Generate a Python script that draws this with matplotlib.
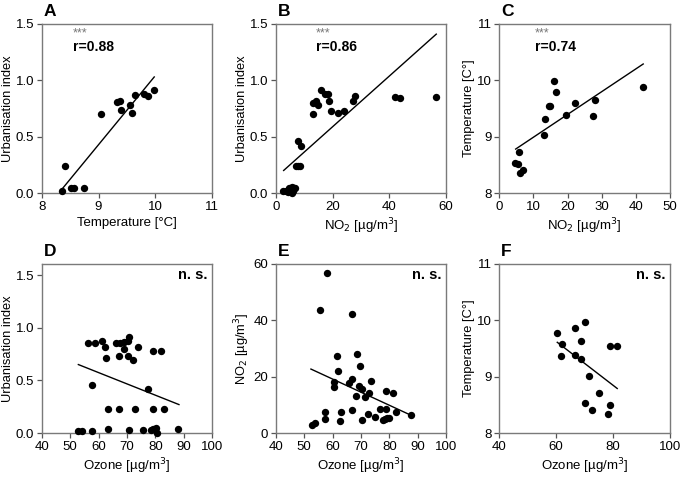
import matplotlib
matplotlib.use('Agg')
import matplotlib.pyplot as plt

plt.rcParams['font.family'] = ['Liberation Sans', 'DejaVu Sans']
plt.rcParams['font.size'] = 9.5

# A: temperature vs urbanisation
a_temp = [8.36, 8.41, 8.52, 8.57, 8.74, 9.04, 9.32, 9.38, 9.39, 9.55, 9.59, 9.65, 9.80, 9.87, 9.97]
a_urb = [0.02, 0.24, 0.04, 0.04, 0.04, 0.70, 0.81, 0.82, 0.74, 0.78, 0.71, 0.87, 0.88, 0.86, 0.91]
a_fit_x = [8.35, 9.98]
a_fit_y = [0.03, 1.03]

# B: NO2 vs urbanisation
b_no2 = [2.5, 3.5, 4.2, 4.8, 5.3, 5.6, 6.0, 6.3, 6.8, 5.8, 4.5,
         7.0, 7.8, 8.6, 7.8, 8.8,
         13.0, 13.3, 14.3, 14.8, 16.0, 17.2, 18.3, 18.7, 19.6, 22.0, 24.0,
         27.3, 28.0, 42.0, 43.6, 56.5]
b_urb = [0.02, 0.02, 0.03, 0.04, 0.03, 0.05, 0.02, 0.04, 0.04, 0.00, 0.01,
         0.24, 0.24, 0.24, 0.46, 0.42,
         0.70, 0.80, 0.82, 0.78, 0.91, 0.88, 0.88, 0.82, 0.73, 0.71, 0.73,
         0.82, 0.86, 0.85, 0.84, 0.85]
b_fit_x = [2.8, 56.5]
b_fit_y = [0.20, 1.41]

# C: NO2 vs temperature
c_no2 = [4.7, 5.4, 5.9, 6.0, 7.0, 13.0, 13.4, 14.5, 15.0, 16.0, 16.6, 19.5, 22.3, 27.4, 28.0, 42.2]
c_temp = [8.54, 8.51, 8.72, 8.36, 8.40, 9.03, 9.32, 9.55, 9.55, 9.99, 9.80, 9.38, 9.59, 9.37, 9.65, 9.88]
c_fit_x = [4.8, 42.2]
c_fit_y = [8.78, 10.29]

# D: ozone vs urbanisation
d_ozone = [56.2, 58.8, 61.1, 62.4, 62.5, 66.3, 67.3, 67.7, 68.8, 69.1, 70.3, 70.3, 70.8, 72.1, 73.8, 79.3, 81.9,
           57.8, 77.3,
           63.4, 67.2, 73.0, 79.3, 83.1,
           52.8, 54.2, 57.8, 63.4, 70.6, 75.6, 78.5, 79.3, 80.2, 80.5, 88.0]
d_urb = [0.85, 0.85, 0.87, 0.82, 0.71, 0.85, 0.73, 0.85, 0.86, 0.80, 0.87, 0.73, 0.91, 0.69, 0.82, 0.78, 0.78,
         0.46, 0.42,
         0.23, 0.23, 0.23, 0.23, 0.23,
         0.02, 0.02, 0.02, 0.04, 0.03, 0.03, 0.03, 0.04, 0.05, 0.00, 0.04]
d_fit_x = [52.9, 88.3]
d_fit_y = [0.65, 0.27]

# E: ozone vs NO2
e_ozone = [58.2, 55.7, 66.8, 61.7, 68.7, 69.7, 62.0, 60.6, 60.4, 65.8, 66.7, 69.2, 70.2, 73.4, 72.8,
           68.4, 71.6, 78.8, 81.4, 57.3, 62.9, 66.7, 76.8, 78.8, 82.5, 87.5, 57.5, 62.8, 70.2,
           72.4, 75.0, 77.8, 78.5, 79.2, 79.9, 52.8, 54.0]
e_no2 = [56.7, 43.7, 42.1, 27.3, 27.9, 23.8, 22.0, 18.2, 16.4, 17.8, 19.3, 16.7, 15.7, 18.6, 14.3,
         13.3, 12.8, 14.9, 14.3, 7.6, 7.6, 8.2, 8.6, 8.4, 7.6, 6.4, 5.0, 4.3, 4.6,
         6.7, 5.6, 4.6, 5.0, 5.4, 5.3, 2.8, 3.7]
e_fit_x = [52.4, 87.4]
e_fit_y = [22.7, 6.4]

# F: ozone vs temperature
f_ozone = [60.4, 61.9, 61.7, 66.8, 66.8, 68.7, 68.6, 70.3, 71.6, 70.1, 72.5, 75.2, 79.0, 81.5, 79.1, 78.3]
f_temp = [9.78, 9.58, 9.36, 9.87, 9.38, 9.64, 9.31, 9.97, 9.02, 8.53, 8.40, 8.71, 9.54, 9.54, 8.50, 8.34]
f_fit_x = [60.4, 81.5]
f_fit_y = [9.61, 8.79]

fig = plt.figure(figsize=(6.82, 4.79), dpi=100)
W, H = 682, 479
cols = [41.7, 275.7, 499.3]
rows = [(24, 193), (264, 433)]
aw = 170.5


def make_ax(col, row):
    top, bot = rows[row]
    ax = fig.add_axes([cols[col] / W, (H - bot) / H, aw / W, (bot - top) / H])
    for s in ax.spines.values():
        s.set_color('#7a7a7a')
        s.set_linewidth(1.0)
    ax.tick_params(direction='out', length=3.5, width=0.9, color='#555555', pad=2, labelsize=9.5)
    return ax


def panel(ax, x, y, fx, fy, letter, xlim, ylim, xticks, yticks, xlabel, ylabel, r=None):
    ax.plot(x, y, 'o', color='black', markersize=5.3, markeredgewidth=0, clip_on=False, zorder=3)
    ax.plot(fx, fy, color='black', linewidth=1.0)
    ax.set_xlim(*xlim)
    ax.set_ylim(*ylim)
    ax.set_xticks(xticks)
    ax.set_yticks(yticks)
    ax.set_xlabel(xlabel, fontsize=9.5, labelpad=3)
    ax.set_ylabel(ylabel, fontsize=9.3, labelpad=1)
    ax.text(0.01, 1.03, letter, transform=ax.transAxes, fontsize=12.5, fontweight='bold',
            ha='left', va='bottom')
    if r is None:
        ax.text(0.975, 0.935, 'n. s.', transform=ax.transAxes, fontsize=10.5, fontweight='bold',
                ha='right', va='center')
    else:
        ax.text(r[0], 0.945, '***', transform=ax.transAxes, fontsize=9, color='#777777',
                ha='left', va='center')
        ax.text(r[0], 0.864, r[1], transform=ax.transAxes, fontsize=10, fontweight='bold',
                ha='left', va='center')


fmt1 = lambda v: f'{v:.1f}'

ax = make_ax(0, 0)
panel(ax, a_temp, a_urb, a_fit_x, a_fit_y, 'A', (8, 11), (0, 1.5), [8, 9, 10, 11], [0, 0.5, 1.0, 1.5],
      'Temperature [°C]', 'Urbanisation index', (0.184, 'r=0.88'))
ax.set_yticklabels([fmt1(v) for v in [0, 0.5, 1.0, 1.5]])

ax = make_ax(1, 0)
panel(ax, b_no2, b_urb, b_fit_x, b_fit_y, 'B', (0, 60), (0, 1.5), [0, 20, 40, 60], [0, 0.5, 1.0, 1.5],
      'NO$_2$ [µg/m$^3$]', 'Urbanisation index', (0.234, 'r=0.86'))
ax.set_yticklabels([fmt1(v) for v in [0, 0.5, 1.0, 1.5]])

ax = make_ax(2, 0)
panel(ax, c_no2, c_temp, c_fit_x, c_fit_y, 'C', (0, 50), (8, 11), [0, 10, 20, 30, 40, 50], [8, 9, 10, 11],
      'NO$_2$ [µg/m$^3$]', 'Temperature [C°]', (0.209, 'r=0.74'))

ax = make_ax(0, 1)
panel(ax, d_ozone, d_urb, d_fit_x, d_fit_y, 'D', (40, 100), (0, 1.605), [40, 50, 60, 70, 80, 90, 100],
      [0, 0.5, 1.0, 1.5], 'Ozone [µg/m$^3$]', 'Urbanisation index')
ax.set_yticklabels([fmt1(v) for v in [0, 0.5, 1.0, 1.5]])

ax = make_ax(1, 1)
panel(ax, e_ozone, e_no2, e_fit_x, e_fit_y, 'E', (40, 100), (0, 60), [40, 50, 60, 70, 80, 90, 100],
      [0, 20, 40, 60], 'Ozone [µg/m$^3$]', 'NO$_2$ [µg/m$^3$]')

ax = make_ax(2, 1)
panel(ax, f_ozone, f_temp, f_fit_x, f_fit_y, 'F', (40, 100), (8, 11), [40, 60, 80, 100], [8, 9, 10, 11],
      'Ozone [µg/m$^3$]', 'Temperature [C°]')

fig.savefig('out.png', dpi=100)
